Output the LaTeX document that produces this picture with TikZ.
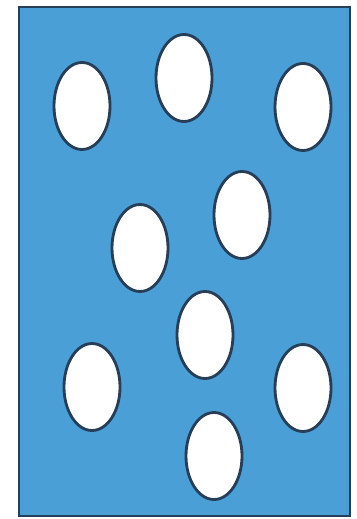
\documentclass[tikz,border=0pt]{standalone}
\usepackage{xcolor}
\usepackage{tikz}
\usetikzlibrary{shapes.geometric}

\definecolor{tankblue}{RGB}{74,159,214}
\definecolor{rimdark}{RGB}{38,62,88}

\begin{document}
\begin{tikzpicture}[
  x=0.02cm, y=-0.02cm,
  tank/.style={draw=rimdark, fill=tankblue, line width=1.4pt},
  hole/.style={ellipse, draw=rimdark, fill=white, line width=1.6pt,
               minimum width=1.12cm, minimum height=1.74cm, inner sep=0pt},
]
  \useasboundingbox (0,0) rectangle (356,519);

  \draw[tank] (19,7) rectangle (350,516);

  \node[hole] (h1) at (82,106)  {};
  \node[hole] (h2) at (184,78)  {};
  \node[hole] (h3) at (303,107) {};
  \node[hole] (h4) at (242,215) {};
  \node[hole] (h5) at (140,248) {};
  \node[hole] (h6) at (205,335) {};
  \node[hole] (h7) at (92,387)  {};
  \node[hole] (h8) at (303,388) {};
  \node[hole] (h9) at (214,456) {};

\end{tikzpicture}
\end{document}
